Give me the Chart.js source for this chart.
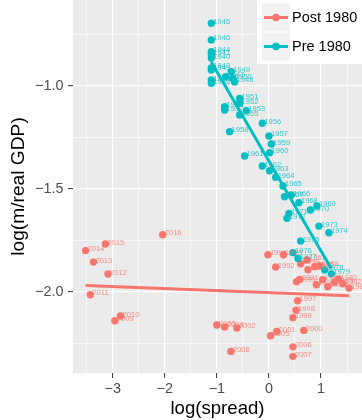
<!DOCTYPE html>
<html>
<head>
<meta charset="utf-8">
<script src="https://cdn.jsdelivr.net/npm/chart.js@4/dist/chart.umd.min.js"></script>
<style>
html,body{margin:0;padding:0;background:#fff;}
#wrap{position:absolute;left:0;top:0;width:362px;height:420px;}
</style>
</head>
<body>
<div id="wrap"><canvas id="c" width="362" height="420"></canvas></div>
<script>
// ---- data ----
const postYears = [1980,1981,1982,1983,1984,1985,1986,1987,1988,1989,1990,1991,1992,1993,1994,1995,1996,1997,1998,1999,2000,2001,2002,2003,2004,2005,2006,2007,2008,2009,2010,2011,2012,2013,2014,2015,2016];
const postSpread = [1.33,1.13,1.42,1.26,1.03,1.54,0.88,0.73,0.975,0.75,0.53,0.59,0.13,0.91,-0.02,0.28,0.61,0.55,0.52,0.46,0.67,0.15,-0.615,-1.0,-0.85,0.03,0.46,0.46,-0.73,-2.96,-2.85,-3.43,-3.09,-3.37,-3.52,-3.14,-2.04];
const postMoney = [-1.939,-1.976,-1.961,-1.954,-1.942,-1.982,-1.878,-1.845,-1.874,-1.893,-1.951,-1.94,-1.88,-1.966,-1.82,-1.82,-1.864,-2.044,-2.09,-2.126,-2.188,-2.193,-2.176,-2.162,-2.171,-2.214,-2.268,-2.314,-2.29,-2.141,-2.118,-2.015,-1.914,-1.856,-1.80,-1.768,-1.723];

const preYears = [1937,1938,1939,1940,1941,1942,1943,1944,1945,1946,1947,1948,1949,1950,1951,1952,1953,1954,1955,1956,1957,1958,1959,1960,1961,1962,1963,1964,1965,1966,1967,1968,1969,1970,1971,1972,1973,1974,1975,1976,1977,1978,1979];
const preSpread = [-0.851,-1.106,-1.106,-1.106,-1.106,-1.106,-1.106,-1.106,-1.106,-1.106,-0.831,-0.659,-0.722,-0.691,-0.563,-0.563,-0.434,-0.851,-0.563,-0.127,0.0,-0.755,0.046,0.013,-0.467,-0.127,0.013,0.129,0.269,0.43,0.30,0.576,0.922,0.795,0.384,0.346,0.96,1.152,0.609,0.461,0.557,1.07,1.198];
const preMoney = [-1.117,-0.987,-0.971,-0.864,-0.846,-0.912,-0.922,-0.833,-0.695,-0.776,-0.955,-0.980,-0.930,-0.963,-1.060,-1.084,-1.120,-1.101,-1.141,-1.181,-1.243,-1.222,-1.282,-1.324,-1.340,-1.389,-1.412,-1.444,-1.486,-1.530,-1.538,-1.567,-1.583,-1.603,-1.619,-1.643,-1.681,-1.713,-1.754,-1.810,-1.838,-1.894,-1.913];

const xTicks = [-3.5,-3,-2.5,-2,-1.5,-1,-0.5,0,0.5,1,1.5];
const yTicks = [-2.25,-2,-1.75,-1.5,-1.25,-1,-0.75];
const seriesNames = ['Post 1980','Pre 1980'];

// ---- style ----
const RED = '#F8766D', TEAL = '#00BFC4';
const FONT = "'Liberation Sans', Arial, Helvetica, sans-serif";

function pts(xs, ys){ return xs.map((x,i)=>({x:x, y:ys[i]})); }
function lmLine(xs, ys){
  const n = xs.length;
  const mx = xs.reduce((a,b)=>a+b,0)/n, my = ys.reduce((a,b)=>a+b,0)/n;
  let sxy=0, sxx=0;
  for(let i=0;i<n;i++){ sxy += (xs[i]-mx)*(ys[i]-my); sxx += (xs[i]-mx)*(xs[i]-mx); }
  const b = sxy/sxx, a = my - b*mx;
  const x0 = Math.min(...xs), x1 = Math.max(...xs);
  return [{x:x0,y:a+b*x0},{x:x1,y:a+b*x1}];
}
function fmt(v, dec){
  const s = Math.abs(v).toFixed(dec);
  return (v<0?'\u2212':'') + s;
}
function noPad(s){ s.paddingTop = 0; s.paddingBottom = 0; s.paddingLeft = 0; s.paddingRight = 0; }

const bgPlugin = {
  id:'bg',
  beforeDraw(chart){
    const {ctx, chartArea:a} = chart;
    ctx.save(); ctx.fillStyle = '#EBEBEB';
    ctx.fillRect(a.left, a.top, a.right-a.left, a.bottom-a.top);
    ctx.restore();
  }
};

const labelPlugin = {
  id:'pointLabels',
  afterDatasetDraw(chart, args){
    if(args.index !== 1) return; // after last point layer is drawn
    const {ctx, scales:{x, y}} = chart;
    ctx.save();
    ctx.font = '7.6px ' + FONT;
    ctx.textAlign = 'left'; ctx.textBaseline = 'alphabetic';
    const draw = (yrs, xs, ys, col) => {
      ctx.fillStyle = col;
      yrs.forEach((yr,i)=>{
        ctx.fillText(String(yr), x.getPixelForValue(xs[i]) + 2, y.getPixelForValue(ys[i]) + 0.5);
      });
    };
    draw(postYears, postSpread, postMoney, 'rgba(248,118,109,0.8)');
    draw(preYears, preSpread, preMoney, 'rgba(0,191,196,0.8)');
    ctx.restore();
  }
};

const legendPlugin = {
  id:'ggLegend',
  afterDraw(chart){
    const ctx = chart.ctx;
    ctx.save();
    ctx.fillStyle = '#FFFFFF';
    ctx.fillRect(257, 0, 105, 64);
    const cols = [RED, TEAL];
    const cy = [17.5, 46.5];
    seriesNames.forEach((name,i)=>{
      ctx.fillStyle = '#F2F2F2';
      ctx.fillRect(262, cy[i]-14, 28, 28);
      ctx.strokeStyle = cols[i]; ctx.lineWidth = 3;
      ctx.beginPath(); ctx.moveTo(264, cy[i]); ctx.lineTo(288, cy[i]); ctx.stroke();
      ctx.fillStyle = cols[i];
      ctx.beginPath(); ctx.arc(276, cy[i], 3.8, 0, Math.PI*2); ctx.fill();
      ctx.fillStyle = '#000000';
      ctx.font = '14.5px ' + FONT;
      ctx.textAlign = 'left'; ctx.textBaseline = 'middle';
      ctx.fillText(name, 292, cy[i]+0.5);
    });
    ctx.restore();
  }
};

new Chart(document.getElementById('c'), {
  type:'scatter',
  data:{
    datasets:[
      {label:'Post fit', type:'line', data: lmLine(postSpread, postMoney), borderColor:RED, borderWidth:3, pointRadius:0, order:0},
      {label:'Pre 1980', data: pts(preSpread, preMoney), backgroundColor:TEAL, borderWidth:0, pointRadius:3.7, order:1},
      {label:'Post 1980', data: pts(postSpread, postMoney), backgroundColor:RED, borderWidth:0, pointRadius:3.7, order:2},
      {label:'Pre fit', type:'line', data: lmLine(preSpread, preMoney), borderColor:TEAL, borderWidth:3, pointRadius:0, order:0}
    ]
  },
  options:{
    responsive:false, animation:false,
    layout:{padding:0, autoPadding:false},
    plugins:{legend:{display:false}, tooltip:{enabled:false}},
    scales:{
      x:{
        type:'linear', min:-3.762, max:1.787,
        afterBuildTicks(s){ s.ticks = xTicks.map(v=>({value:v})); },
        afterFit(s){ s.height = 47; noPad(s); },
        border:{display:false},
        grid:{
          color:'#FFFFFF',
          lineWidth:(c)=> Number.isInteger(c.tick.value) ? 1.2 : 0.6,
          tickColor:(c)=> Number.isInteger(c.tick.value) ? '#333333' : 'rgba(0,0,0,0)',
          tickLength:5, tickWidth:1
        },
        ticks:{
          autoSkip:false, maxRotation:0, padding:2,
          color:'#4D4D4D', font:{family:FONT, size:14.4},
          callback:(v)=> Number.isInteger(v) ? fmt(v,0) : ''
        },
        title:{display:true, text:'log(spread)', color:'#000000', font:{family:FONT, size:18.6}, padding:{top:0,bottom:0}}
      },
      y:{
        type:'linear', min:-2.395, max:-0.582,
        afterBuildTicks(s){ s.ticks = yTicks.map(v=>({value:v})); },
        afterFit(s){ s.width = 73; noPad(s); },
        border:{display:false},
        grid:{
          color:'#FFFFFF',
          lineWidth:(c)=> (Math.abs(c.tick.value*2 - Math.round(c.tick.value*2))<1e-9) ? 1.2 : 0.6,
          tickColor:(c)=> (Math.abs(c.tick.value*2 - Math.round(c.tick.value*2))<1e-9) ? '#333333' : 'rgba(0,0,0,0)',
          tickLength:5, tickWidth:1
        },
        ticks:{
          autoSkip:false, padding:4.5,
          color:'#4D4D4D', font:{family:FONT, size:14.4},
          callback:(v)=> (Math.abs(v*2 - Math.round(v*2))<1e-9) ? fmt(v,1) : ''
        },
        title:{display:true, text:'log(m/real GDP)', color:'#000000', font:{family:FONT, size:19.2}, padding:{top:7,bottom:0}}
      }
    }
  },
  plugins:[bgPlugin, labelPlugin, legendPlugin]
});
</script>
</body>
</html>
